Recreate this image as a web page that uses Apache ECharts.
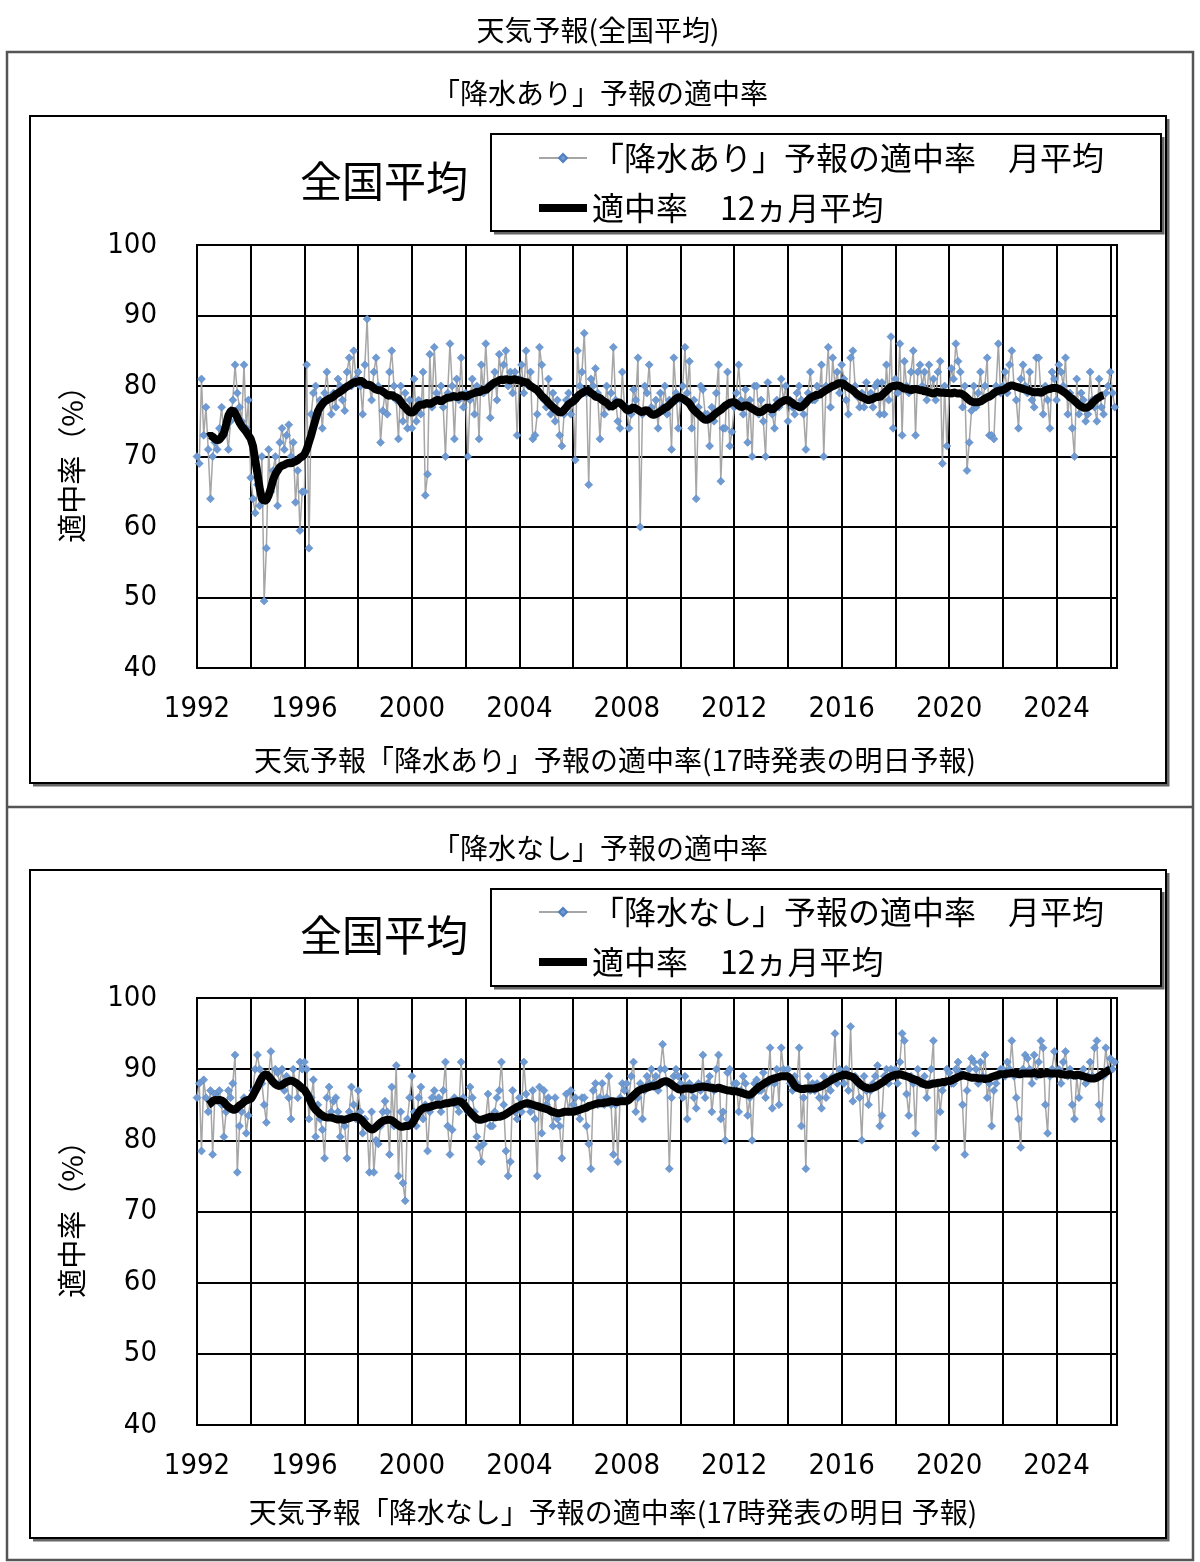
<!DOCTYPE html>
<html>
<head>
<meta charset="utf-8">
<script src="https://cdn.jsdelivr.net/npm/echarts@6/dist/echarts.min.js"></script>
<style>
  html, body { margin: 0; padding: 0; background: #fff; }
  #chart { width: 1200px; height: 1562px; }
</style>
</head>
<body>
<div id="chart"></div>
<script>
// 月別 (1992/1 - 2026/3) 「降水あり」予報の適中率
const rainYes = [
  70, 69, 81, 73, 77, 71, 64, 70, 72, 71, 74, 77,        // 1992
  73, 74, 71, 75, 78, 83, 79, 77, 75, 83, 74, 78,        // 1993
  67, 64, 62, 66, 63, 70, 49.5, 57, 71, 65, 68, 70,      // 1994
  63, 72, 74, 71, 73, 74.5, 70, 72, 63.5, 68, 59.5, 65,  // 1995
  65, 83, 57, 76, 79, 80, 76, 78, 74, 79, 82, 78,        // 1996
  76, 79, 77, 81, 80, 78, 76.5, 82, 84, 80, 85, 81,      // 1997
  82, 80, 76, 83, 89.5, 80, 78, 82, 84, 80, 72, 76.5,    // 1998
  79, 76, 82, 85, 80, 78, 72.5, 80, 75, 79, 74, 78,      // 1999
  74, 81, 75, 78, 76, 82, 64.5, 67.5, 84.5, 77, 85.5, 79,// 2000
  78, 80, 77, 70, 79, 86, 80, 72.5, 81, 78, 84, 77,      // 2001
  79, 70, 78, 81, 76, 80, 72.5, 83, 79, 86, 80, 75.5,    // 2002
  80, 82, 78, 84.5, 81, 83, 85, 80, 82, 79, 82, 73,      // 2003
  81, 83, 79, 85, 80, 82, 72.5, 73, 76, 85.5, 83, 78,    // 2004
  77, 81, 76, 79, 75, 78, 73, 71.5, 76, 78, 79, 76,      // 2005
  78, 69.5, 85, 80, 82, 87.5, 79, 66, 81, 80, 82.5, 79,  // 2006
  72.5, 78, 76, 80, 77, 79, 85.5, 78, 75, 74, 82, 77,    // 2007
  77, 74, 76, 79.5, 78, 84, 60, 76, 80, 79, 83, 77,      // 2008
  76, 78, 74, 79, 77, 80, 76, 78, 71, 84, 79, 74,        // 2009
  78, 80, 85.5, 79, 83.5, 74, 78, 64, 77, 80, 79.5, 76,  // 2010
  76, 71.5, 77, 75, 79, 83, 66.5, 74, 74, 82, 71.5, 73.5,// 2011
  77, 79, 83, 78, 76, 79.5, 72, 78, 70, 80, 80, 76,      // 2012
  78, 75, 70, 80.5, 77, 76, 74, 78, 77, 81, 78, 80,      // 2013
  75, 78, 77, 76, 79, 80, 78, 76, 71, 79, 82, 78,        // 2014
  78, 80, 79, 83, 70, 80, 85.5, 77, 84, 80, 82, 79,      // 2015
  83, 81, 78, 76, 84, 85, 80, 78.5, 77, 79, 77, 80.5,    // 2016
  78, 79, 77, 80, 80.5, 76, 80.5, 76, 83, 78, 87, 74,    // 2017
  81, 79, 86, 73, 83.5, 80, 79, 82, 85, 73, 82, 83,      // 2018
  80, 82, 78, 83, 79, 81, 78, 82, 83.5, 69, 80, 71.5,    // 2019
  79, 82.5, 81, 86, 83.5, 82, 77, 80, 68, 72, 76.5, 80,  // 2020
  77, 79, 82, 78, 80, 84, 73, 73, 72.5, 80, 86, 79,      // 2021
  80, 82, 79, 83, 85, 80, 78, 74, 81, 83, 80, 79,        // 2022
  82, 78, 77, 84, 84, 79, 76, 80, 78, 74, 82, 81,        // 2023
  78, 83, 82, 80, 84, 76, 79, 74, 70, 81, 76, 79,        // 2024
  78, 75, 76, 82, 78, 77, 75, 81, 77, 76, 79, 80,        // 2025
  82, 79, 77                                             // 2026
];

// 12ヵ月平均 「降水あり」
const rainYesAvg = [
  null, null, null, null, null, 72.8, 73.0, 72.8, 72.5, 72.3, 72.4, 72.8,
  73.3, 74.5, 75.8, 76.4, 76.6, 76.2, 75.5, 74.8, 74.3, 73.9, 73.5, 73.0,
  72.5, 71.5, 69.5, 67.6, 65.5, 64.0, 63.7, 63.8, 64.5, 65.5, 66.7, 67.5,
  68.0, 68.5, 68.7, 68.8, 69.0, 69.1, 69.0, 69.2, 69.3, 69.5, 69.8, 70.0,
  70.3, 71.0, 72.0, 73.0, 74.2, 75.3, 76.4, 77.0, 77.4, 77.8, 78.0, 78.2,
  78.3, 78.5, 78.8, 79.0, 79.2, 79.4, 79.7, 79.9, 80.1, 80.3, 80.5, 80.6,
  80.6, 80.8, 80.6, 80.3, 80.1, 80.2, 80.0, 79.7, 79.5, 79.4, 79.4, 79.2,
  79.0, 78.7, 78.6, 78.8, 78.5, 78.4, 78.2, 77.8, 77.3, 77.0, 76.6, 76.3,
  76.2, 76.4, 76.8, 77.2, 77.4, 77.3, 77.5, 77.6, 77.4, 77.6, 77.8, 78.0,
  78.0, 77.8, 78.0, 78.2, 78.4, 78.3, 78.5, 78.6, 78.4, 78.5, 78.7, 78.6,
  78.5, 78.6, 78.8, 78.9, 79.0, 79.2, 79.1, 79.3, 79.5, 79.4, 79.7, 80.0,
  80.3, 80.5, 80.6, 80.8, 80.9, 80.8, 81.0, 80.9, 80.8, 80.9, 81.0, 80.8,
  80.8, 80.7, 80.5, 80.6, 80.3, 80.0, 79.8, 79.6, 79.4, 79.0, 78.6, 78.3,
  78.0, 77.6, 77.3, 77.0, 76.7, 76.5, 76.2, 76.3, 76.6, 77.0, 77.4, 77.6,
  77.8, 78.1, 78.5, 78.8, 79.0, 79.2, 79.4, 79.3, 79.0, 78.8, 78.5, 78.4,
  78.3, 78.0, 77.8, 77.6, 77.3, 77.0, 77.2, 77.5, 77.7, 77.6, 77.3, 77.0,
  76.6, 76.5, 76.8, 77.0, 76.8, 76.6, 76.4, 76.3, 76.5, 76.6, 76.3, 76.0,
  75.9, 76.0, 76.2, 76.4, 76.6, 76.9, 77.0, 77.3, 77.6, 77.9, 78.2, 78.4,
  78.4, 78.2, 78.0, 77.8, 77.5, 77.0, 76.6, 76.3, 76.0, 75.7, 75.4, 75.2,
  75.2, 75.4, 75.6, 75.9, 76.2, 76.4, 76.6, 76.9, 77.2, 77.4, 77.6, 77.7,
  77.7, 77.5, 77.2, 77.0, 77.1, 77.3, 77.2, 77.0, 76.8, 76.6, 76.4, 76.3,
  76.3, 76.5, 76.8, 77.0, 76.8, 76.6, 76.9, 77.2, 77.5, 77.7, 77.9, 78.0,
  78.0, 77.8, 77.6, 77.3, 77.2, 77.0, 77.0, 77.3, 77.6, 78.0, 78.3, 78.5,
  78.6, 78.8, 78.7, 79.0, 79.2, 79.4, 79.6, 79.8, 80.0, 80.1, 80.3, 80.4,
  80.4, 80.3, 80.0, 79.8, 79.6, 79.4, 79.1, 78.8, 78.6, 78.4, 78.3, 78.1,
  78.0, 78.1, 78.2, 78.4, 78.5, 78.4, 78.7, 79.0, 79.3, 79.6, 79.9, 80.0,
  80.0, 80.1, 80.0, 79.8, 79.6, 79.7, 79.5, 79.4, 79.5, 79.6, 79.5, 79.4,
  79.4, 79.2, 79.3, 79.1, 79.0, 78.9, 79.1, 79.2, 79.0, 79.1, 79.0, 79.0,
  79.0, 78.9, 79.1, 79.0, 78.9, 79.0, 78.8, 78.6, 78.3, 78.0, 77.8, 77.7,
  77.7, 77.7, 77.8, 78.0, 78.2, 78.4, 78.5, 78.7, 79.0, 79.2, 79.3, 79.4,
  79.4, 79.6, 79.8, 80.0, 80.1, 80.0, 79.9, 79.8, 79.7, 79.6, 79.5, 79.4,
  79.3, 79.2, 79.1, 79.1, 79.2, 79.0, 79.2, 79.4, 79.5, 79.6, 79.7, 79.7,
  79.7, 79.6, 79.4, 79.2, 79.0, 78.7, 78.4, 78.2, 77.9, 77.6, 77.3, 77.1,
  76.9, 76.9, 77.0, 77.2, 77.6, 77.9, 78.2, 78.4, 78.6, 78.7
];

// 月別 「降水なし」予報の適中率
const rainNo = [
  86, 88, 78.5, 88.5, 86, 84, 87, 78, 86.5, 86, 87, 85,      // 1992
  80.5, 84, 87, 86, 88, 92, 75.5, 82, 84, 86, 81, 83.5,      // 1993
  86, 87, 90, 92, 90, 88, 85, 82.5, 89, 92.5, 88, 90,        // 1994
  89.5, 88, 90, 87, 89, 86, 83, 90, 88, 86, 91, 90,          // 1995
  91, 90, 83, 86, 88.5, 80.5, 85, 83, 81.5, 77.5, 86, 87.5,  // 1996
  84, 85.5, 86, 84, 80.5, 83, 82, 77.5, 84, 87.5, 85, 83,    // 1997
  87, 84, 81, 83, 82, 75.5, 84, 75.5, 80, 79.5, 82, 84,      // 1998
  85.5, 84, 78, 87.5, 82, 90.5, 75, 84, 74, 71.5, 83, 86,    // 1999
  89, 84, 82, 86, 87.5, 83, 85, 78.5, 84, 86, 87, 85,        // 2000
  86, 84, 87, 91, 82, 78, 81.5, 86, 85, 84, 91, 86,          // 2001
  85, 84, 87.5, 86, 84, 80.5, 79, 77, 79.5, 83, 86.5, 82,    // 2002
  82, 84, 86, 87, 91, 85, 78.5, 75, 77, 87, 84, 83,          // 2003
  86, 84, 91, 86.5, 85, 84, 87, 83, 75, 87.5, 81, 87,        // 2004
  85, 86, 84, 82, 86, 83, 82, 77.5, 84, 86.5, 84, 87,        // 2005
  85, 86, 84, 83, 86, 86, 82, 79.5, 76, 87, 88, 85,          // 2006
  86, 88, 85, 86, 89, 85, 78, 85, 77, 86, 88, 87,            // 2007
  88, 86, 89, 91, 84, 86, 88, 83, 87, 89, 88, 90,            // 2008
  88, 89, 87, 90, 93.5, 90, 88, 76, 86, 89, 90, 89,          // 2009
  88, 86, 89, 83, 88, 87, 86, 84.5, 88, 87, 92, 86,          // 2010
  88, 89, 84, 87, 90, 92, 83, 84, 80, 89.5, 90, 87,          // 2011
  88, 88, 84, 87, 89, 88, 83.5, 86, 80, 88, 88.5, 87,        // 2012
  87, 89.5, 86, 88, 93, 84.5, 88, 90, 85, 93, 90, 89,        // 2013
  90, 88, 87, 89, 88, 93, 82, 86, 76, 89, 87, 88,            // 2014
  87, 88, 86, 84.5, 89, 86, 88, 87, 89, 95, 88, 90,          // 2015
  89, 88, 90, 87, 96, 85.5, 89, 88, 86, 80, 89, 87,          // 2016
  85, 87, 88, 89, 90.5, 82, 83.5, 89, 90, 88, 90, 89,        // 2017
  90, 88, 91, 95, 94, 86.5, 83.5, 89, 88, 81, 90, 88,        // 2018
  88, 89, 86, 88, 90, 94, 79, 88, 84, 87, 88, 90,            // 2019
  89.5, 88, 88, 90, 91, 89.5, 85, 78, 87, 90, 91.5, 91,      // 2020
  90, 88, 91, 89, 92, 86, 88, 82, 87, 88, 89, 90,            // 2021
  90, 89, 91, 90, 94, 89, 86, 83, 79, 90, 92, 91.5,          // 2022
  90, 88, 92, 89, 91, 94, 93, 85, 81, 89, 90, 92.5,          // 2023
  89.5, 90, 88, 91, 92.5, 89, 90, 85, 83, 89, 86, 89,        // 2024
  90, 88, 89, 91, 89, 93, 94, 85, 83, 89, 93, 90,            // 2025
  91.5, 90, 91                                               // 2026
];

// 12ヵ月平均 「降水なし」
const rainNoAvg = [
  null, null, null, null, null, 85.0, 85.2, 85.5, 85.7, 85.6, 85.7, 85.6,
  85.4, 85.0, 84.7, 84.5, 84.3, 84.3, 84.6, 84.9, 85.1, 85.4, 85.6, 85.7,
  85.8, 86.3, 86.9, 87.5, 88.2, 88.8, 89.2, 89.3, 89.0, 88.6, 88.2, 87.9,
  87.7, 87.6, 87.8, 88.0, 88.2, 88.3, 88.4, 88.3, 88.1, 87.9, 87.6, 87.3,
  87.1, 86.6, 86.0, 85.3, 84.7, 84.3, 84.0, 83.7, 83.5, 83.3, 83.2, 83.2,
  83.2, 83.1, 83.0, 82.9, 83.0, 82.9, 82.9, 83.0, 83.1, 83.2, 83.3, 83.3,
  83.2, 83.0, 82.7, 82.3, 82.0, 81.7, 81.5, 81.6, 81.9, 82.2, 82.5, 82.7,
  82.8, 82.9, 82.9, 82.8, 82.6, 82.3, 82.1, 81.9, 81.9, 82.0, 82.0, 82.1,
  82.3, 82.8, 83.4, 83.9, 84.3, 84.5, 84.6, 84.6, 84.7, 84.8, 84.9, 85.0,
  85.0, 85.0, 85.1, 85.2, 85.2, 85.3, 85.3, 85.4, 85.5, 85.5, 85.4, 85.1,
  84.7, 84.3, 84.0, 83.6, 83.3, 83.0, 82.9, 82.9, 83.0, 83.1, 83.2, 83.3,
  83.3, 83.2, 83.3, 83.3, 83.4, 83.5, 83.7, 83.9, 84.1, 84.3, 84.5, 84.7,
  84.8, 85.0, 85.1, 85.2, 85.2, 85.1, 85.0, 84.9, 84.8, 84.7, 84.6, 84.5,
  84.4, 84.3, 84.1, 84.0, 83.9, 83.8, 83.8, 83.9, 84.0, 84.0, 84.0, 84.0,
  84.0, 84.1, 84.2, 84.3, 84.4, 84.5, 84.6, 84.8, 84.9, 85.0, 85.1, 85.2,
  85.2, 85.2, 85.3, 85.3, 85.4, 85.5, 85.5, 85.4, 85.4, 85.5, 85.5, 85.5,
  85.5, 85.7, 86.0, 86.3, 86.6, 86.9, 87.1, 87.2, 87.3, 87.4, 87.5, 87.6,
  87.6, 87.7, 87.8, 88.0, 88.2, 88.3, 88.3, 88.1, 87.9, 87.6, 87.4, 87.2,
  87.1, 87.2, 87.3, 87.3, 87.3, 87.2, 87.3, 87.4, 87.5, 87.5, 87.6, 87.5,
  87.5, 87.4, 87.4, 87.3, 87.3, 87.4, 87.3, 87.2, 87.1, 87.0, 87.0, 86.9,
  86.9, 86.9, 86.8, 86.7, 86.6, 86.5, 86.4, 86.4, 86.6, 86.9, 87.2, 87.5,
  87.7, 87.9, 88.1, 88.3, 88.5, 88.6, 88.7, 88.8, 88.9, 89.0, 89.0, 89.0,
  89.0, 88.7, 88.2, 87.7, 87.4, 87.3, 87.2, 87.2, 87.3, 87.3, 87.3, 87.3,
  87.3, 87.4, 87.5, 87.6, 87.8, 88.0, 88.2, 88.4, 88.6, 88.7, 88.9, 89.0,
  89.1, 89.2, 89.2, 89.1, 89.0, 88.9, 88.6, 88.3, 88.0, 87.7, 87.5, 87.4,
  87.3, 87.3, 87.4, 87.5, 87.7, 87.9, 88.1, 88.3, 88.6, 88.8, 89.0, 89.1,
  89.2, 89.2, 89.3, 89.2, 89.1, 89.0, 88.9, 88.7, 88.6, 88.5, 88.4, 88.2,
  88.0, 87.9, 87.8, 87.8, 87.9, 88.0, 88.0, 88.1, 88.1, 88.2, 88.2, 88.3,
  88.3, 88.4, 88.6, 88.7, 88.9, 89.0, 89.2, 89.1, 89.0, 88.9, 88.8, 88.8,
  88.8, 88.7, 88.7, 88.7, 88.6, 88.7, 88.7, 88.9, 89.0, 89.1, 89.2, 89.3,
  89.3, 89.3, 89.4, 89.4, 89.5, 89.4, 89.4, 89.3, 89.3, 89.4, 89.4, 89.4,
  89.4, 89.4, 89.5, 89.4, 89.3, 89.3, 89.4, 89.4, 89.5, 89.4, 89.4, 89.4,
  89.4, 89.4, 89.3, 89.3, 89.2, 89.2, 89.3, 89.2, 89.1, 89.2, 89.2, 89.1,
  89.0, 88.9, 88.8, 88.7, 88.7, 88.7, 88.8, 89.0, 89.2, 89.4, 89.6, 89.8,
  89.9
];

const yTicks = { min: 40, max: 100, step: 10 };
const yearLabelEvery = 48;   // 4年ごとに年ラベル
const gridLineEvery = 24;    // 2年ごとに縦線

// 1992/1 〜 2026/4 の月カテゴリ
const months = [];
for (let y = 1992; y <= 2026; y++) {
  for (let m = 1; m <= 12; m++) months.push(y + '/' + m);
}
months.length = 412;

const jp = "'Noto Sans CJK JP', sans-serif";
const num = "'DejaVu Sans Condensed', 'Liberation Sans Narrow', 'DejaVu Sans', sans-serif";

const nameYes = '「降水あり」予報の適中率　月平均';
const nameNo = '「降水なし」予報の適中率　月平均';
const nameAvg = '適中率　12ヵ月平均';

function xAxisFor(i) {
  return {
    type: 'category', gridIndex: i, data: months, boundaryGap: false,
    axisLine: { lineStyle: { color: '#000', width: 2 } },
    axisTick: { show: false },
    axisLabel: {
      interval: (idx) => idx % yearLabelEvery === 0,
      formatter: (v) => v.slice(0, 4),
      fontSize: 29, color: '#000', fontFamily: num, margin: 27
    },
    splitLine: {
      show: true,
      interval: (idx) => idx % gridLineEvery === 0,
      lineStyle: { color: '#000', width: 2 }
    }
  };
}

function yAxisFor(i) {
  return {
    type: 'value', gridIndex: i, min: yTicks.min, max: yTicks.max, interval: yTicks.step,
    axisLine: { show: true, lineStyle: { color: '#000', width: 2 } },
    axisTick: { show: false },
    axisLabel: { fontSize: 29, color: '#000', fontFamily: num, margin: 40 },
    splitLine: { lineStyle: { color: '#000', width: 2 } }
  };
}

function monthlySeries(name, data, i) {
  return {
    type: 'line', name: name, data: data, xAxisIndex: i, yAxisIndex: i,
    symbol: 'diamond', symbolSize: 8, showAllSymbol: true,
    lineStyle: { color: '#a6a6a6', width: 1.5 },
    itemStyle: { color: '#6f9bd2', borderColor: '#4f7fbf', borderWidth: 0.5 },
    z: 2
  };
}

function avgSeries(data, i) {
  return {
    type: 'line', name: nameAvg, data: data, xAxisIndex: i, yAxisIndex: i,
    symbol: 'none', lineStyle: { color: '#000', width: 8 }, itemStyle: { color: '#000' },
    z: 3
  };
}

// 枠線 + 右下の影
function shadowBox(x, y, w, h) {
  return [
    {
      type: 'polyline', shape: { points: [[x + w + 2, y + 3], [x + w + 2, y + h + 2], [x + 3, y + h + 2]] },
      style: { fill: 'none', stroke: '#666', lineWidth: 3 }, z: 1
    },
    {
      type: 'rect', shape: { x: x, y: y, width: w, height: h },
      style: { fill: 'none', stroke: '#000', lineWidth: 2 }, z: 1
    }
  ];
}

function text(t, x, y, size, extra) {
  return Object.assign({
    type: 'text', x: x, y: y,
    style: { text: t, fontSize: size, fontFamily: jp, fill: '#000', align: 'center', verticalAlign: 'middle' },
    z: 5
  }, extra || {});
}

function legendFor(seriesName, top) {
  return {
    data: [
      seriesName,
      { name: nameAvg, itemStyle: { opacity: 0 }, lineStyle: { width: 8, color: '#000' } }
    ],
    orient: 'vertical', left: 535, top: top, padding: 0,
    itemWidth: 48, itemHeight: 10, itemGap: 18, selectedMode: false,
    textStyle: { fontSize: 32, fontFamily: jp, color: '#000' }
  };
}

const chart = echarts.init(document.getElementById('chart'));
chart.setOption({
  animation: false,
  backgroundColor: '#fff',
  grid: [
    { left: 197, top: 245, width: 920, height: 423, show: true, borderColor: '#000', borderWidth: 2 },
    { left: 197, top: 998, width: 920, height: 427, show: true, borderColor: '#000', borderWidth: 2 }
  ],
  xAxis: [xAxisFor(0), xAxisFor(1)],
  yAxis: [yAxisFor(0), yAxisFor(1)],
  legend: [legendFor(nameYes, 142), legendFor(nameNo, 896)],
  graphic: [
    text('天気予報(全国平均)', 598, 30, 28),
    { type: 'rect', shape: { x: 7, y: 52, width: 1186, height: 1508 }, style: { fill: 'none', stroke: '#555', lineWidth: 2.5 } },
    { type: 'line', shape: { x1: 7, y1: 807, x2: 1193, y2: 807 }, style: { stroke: '#555', lineWidth: 2.5 } },

    text('「降水あり」予報の適中率', 600, 93, 28),
    ...shadowBox(30, 116, 1136, 667),
    ...shadowBox(491, 134, 670, 97),
    text('全国平均', 384, 181, 42),
    text('適中率（%）', 72, 457, 29, { rotation: Math.PI / 2 }),
    text('天気予報「降水あり」予報の適中率(17時発表の明日予報)', 615, 760, 28),

    text('「降水なし」予報の適中率', 600, 848, 28),
    ...shadowBox(30, 870, 1136, 668),
    ...shadowBox(491, 889, 670, 97),
    text('全国平均', 384, 935, 42),
    text('適中率（%）', 72, 1212, 29, { rotation: Math.PI / 2 }),
    text('天気予報「降水なし」予報の適中率(17時発表の明日 予報)', 613, 1512, 28)
  ],
  series: [
    monthlySeries(nameYes, rainYes, 0),
    avgSeries(rainYesAvg, 0),
    monthlySeries(nameNo, rainNo, 1),
    avgSeries(rainNoAvg, 1)
  ]
});
</script>
</body>
</html>
